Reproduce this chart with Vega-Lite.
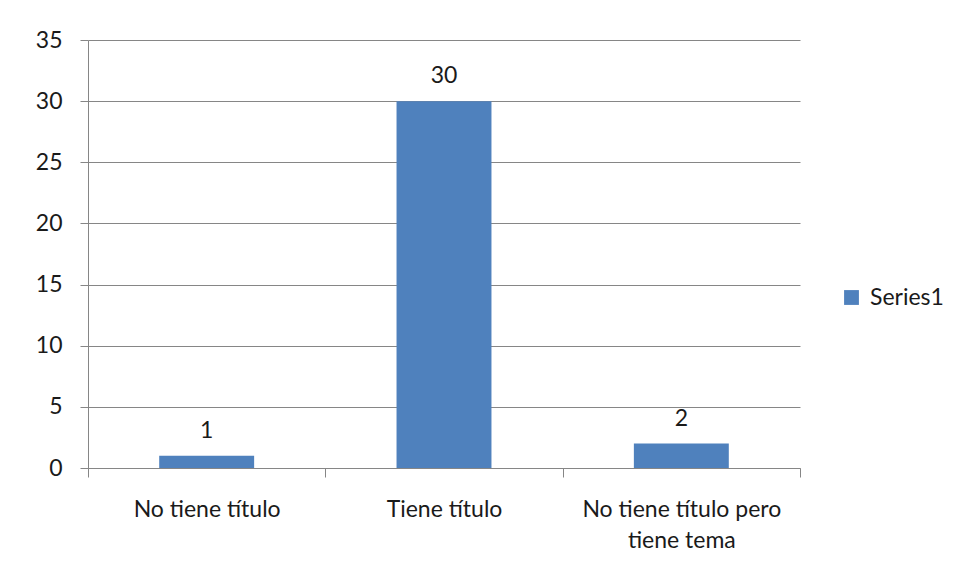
{
  "$schema": "https://vega.github.io/schema/vega-lite/v6.json",
  "width": 712,
  "height": 428,
  "autosize": {"type": "none"},
  "padding": {"left": 88, "top": 40, "right": 155, "bottom": 112},
  "background": "#ffffff",
  "config": {
    "font": "Lato",
    "view": {"stroke": null}
  },
  "data": {
    "values": [
      {"categoria": "No tiene título", "valor": 1, "serie": "Series1"},
      {"categoria": "Tiene título", "valor": 30, "serie": "Series1"},
      {"categoria": "No tiene título pero tiene tema", "valor": 2, "serie": "Series1"}
    ]
  },
  "encoding": {
    "x": {
      "field": "categoria",
      "type": "nominal",
      "sort": null,
      "scale": {"paddingInner": 0, "paddingOuter": 0},
      "axis": {
        "title": null,
        "labelAngle": 0,
        "labelFontSize": 23,
        "labelColor": "#1a1a1a",
        "labelPadding": 21,
        "labelLineHeight": 31,
        "labelLimit": 400,
        "labelBaseline": "top",
        "labelExpr": "datum.label == 'No tiene título pero tiene tema' ? ['No tiene título pero', 'tiene tema'] : datum.label",
        "tickBand": "extent",
        "tickSize": 9,
        "tickColor": "#868686",
        "domainColor": "#868686",
        "grid": false
      }
    },
    "y": {
      "field": "valor",
      "type": "quantitative",
      "scale": {"domain": [0, 35]},
      "axis": {
        "title": null,
        "values": [0, 5, 10, 15, 20, 25, 30, 35],
        "labelFontSize": 23,
        "labelColor": "#1a1a1a",
        "labelPadding": 18,
        "tickSize": 8,
        "tickColor": "#868686",
        "domainColor": "#868686",
        "gridColor": "#868686",
        "gridOpacity": 1
      }
    }
  },
  "layer": [
    {
      "mark": {"type": "bar", "width": {"band": 0.4}},
      "encoding": {
        "color": {
          "field": "serie",
          "type": "nominal",
          "scale": {"range": ["#4F81BD"]},
          "legend": {
            "title": null,
            "orient": "none",
            "legendX": 752,
            "legendY": 246,
            "symbolType": "square",
            "symbolSize": 220,
            "symbolStrokeWidth": 0,
            "labelFontSize": 23,
            "labelColor": "#1a1a1a",
            "labelOffset": 7
          }
        }
      }
    },
    {
      "mark": {"type": "text", "baseline": "bottom", "dy": -13, "fontSize": 23, "color": "#1a1a1a"},
      "encoding": {"text": {"field": "valor", "type": "quantitative"}}
    }
  ]
}
